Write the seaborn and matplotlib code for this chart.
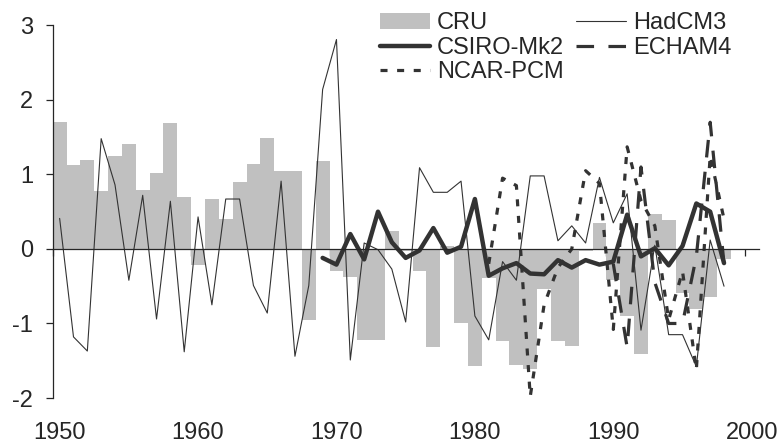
import numpy as np
import matplotlib
matplotlib.use("Agg")
import matplotlib.pyplot as plt
import seaborn as sns

# observed anomalies (bars)
cru_years = np.arange(1950, 1999)
cru = [1.70, 1.13, 1.19, 0.78, 1.25, 1.41, 0.79, 1.02, 1.69, 0.70,
       -0.22, 0.67, 0.40, 0.90, 1.14, 1.49, 1.05, 1.05, -0.96, 1.18,
       -0.30, -0.38, -1.22, -1.22, 0.24, -0.03, -0.30, -1.32, 0.04, -0.99,
       -1.57, -0.39, -1.23, -1.56, -1.61, -0.54, -1.23, -1.30, -0.03, 0.35,
       -0.42, -0.90, -1.41, 0.47, 0.39, -0.59, -0.80, -0.65, -0.13]

# model runs
had_years = np.arange(1950, 1999)
hadcm3 = [0.41, -1.18, -1.37, 1.48, 0.86, -0.42, 0.72, -0.94, 0.64, -1.38,
          0.43, -0.75, 0.67, 0.67, -0.49, -0.86, 0.91, -1.44, -0.49, 2.14,
          2.81, -1.49, 0.08, -0.01, -0.27, -0.98, 1.09, 0.76, 0.76, 0.91,
          -0.90, -1.22, -0.17, -0.42, 0.98, 0.98, 0.11, 0.31, 0.08, 0.96,
          0.35, 0.74, -1.09, 0.05, -1.15, -1.15, -1.58, 0.12, -0.50]

csiro_years = np.arange(1969, 1999)
csiro = [-0.12, -0.21, 0.20, -0.14, 0.50, 0.09, -0.12, -0.02, 0.28, -0.05,
         0.03, 0.67, -0.36, -0.26, -0.19, -0.33, -0.34, -0.15, -0.25, -0.15,
         -0.21, -0.17, 0.46, -0.10, 0.01, -0.22, 0.04, 0.61, 0.50, -0.19]

ncar_years = np.arange(1981, 1999)
ncar = [-0.20, 0.95, 0.85, -1.98, -0.75, -0.25, 0.00, 1.05, 0.88, -1.08,
        1.37, 0.65, 0.31, -0.95, -0.30, -1.62, 1.25, 0.40]

echam_years = np.arange(1990, 1999)
echam4 = [-0.20, -1.32, 1.10, -0.45, -1.00, -1.00, -0.10, 1.70, -0.20]

decades = [1950, 1960, 1970, 1980, 1990, 2000]

sns.set_style("ticks")
plt.rcParams["font.family"] = ["Liberation Sans", "DejaVu Sans"]
plt.rcParams["font.size"] = 17
plt.rcParams["axes.unicode_minus"] = False

fig = plt.figure(figsize=(7.8, 4.45), dpi=100)
ax = fig.add_axes([0.0676, 0.1056, 0.905, 0.8374])

line_col = "#333333"
# each value sits in the middle of its year
sns.barplot(x=cru_years + 0.5, y=cru, native_scale=True, width=1,
            color="#c0c0c0", saturation=1, linewidth=0, label="CRU", ax=ax)
sns.lineplot(x=had_years + 0.5, y=hadcm3, color=line_col, lw=0.8,
             label="HadCM3", ax=ax)
sns.lineplot(x=csiro_years + 0.5, y=csiro, color=line_col, lw=3.2,
             label="CSIRO-Mk2", ax=ax)
sns.lineplot(x=echam_years + 0.5, y=echam4, color=line_col, lw=2.3,
             linestyle=(0, (5.5, 4.5)), label="ECHAM4", ax=ax)
sns.lineplot(x=ncar_years + 0.5, y=ncar, color=line_col, lw=2.3,
             linestyle=(0, (2.2, 3.0)), label="NCAR-PCM", ax=ax)

ax.set_xlim(1950, 2001)
ax.set_ylim(-2, 3)
ax.set_yticks([-2, -1, 0, 1, 2, 3])
ax.set_xticks(decades)
ax.set_xlabel("")
ax.set_ylabel("")

# x axis line crosses at zero, labels stay at the bottom
ax.spines["bottom"].set_position(("data", 0))
ax.spines["top"].set_visible(False)
ax.spines["right"].set_visible(False)
ax.spines["bottom"].set_linewidth(0.9)
ax.spines["left"].set_linewidth(0.9)
ax.tick_params(axis="x", direction="out", length=5, width=0.9,
               labelbottom=False)
ax.tick_params(axis="y", direction="out", length=5, width=0.9, pad=9,
               labelsize=17)

sec = ax.secondary_xaxis("bottom")
sec.set_xticks([d + 0.5 for d in decades], [str(d) for d in decades])
sec.tick_params(length=0, pad=17, labelsize=17)
sec.spines["bottom"].set_visible(False)

h, l = ax.get_legend_handles_labels()
order = ["CRU", "CSIRO-Mk2", "NCAR-PCM", "HadCM3", "ECHAM4"]
hd = dict(zip(l, h))
ax.legend([hd[k] for k in order], order, ncol=2, frameon=False,
          loc="upper left", bbox_to_anchor=(0.487, 0.972),
          bbox_transform=fig.transFigure, borderpad=0, borderaxespad=0,
          handlelength=2.12, handletextpad=0.3, columnspacing=0.5,
          labelspacing=0.1, fontsize=17)

fig.savefig("out.png", dpi=100)
